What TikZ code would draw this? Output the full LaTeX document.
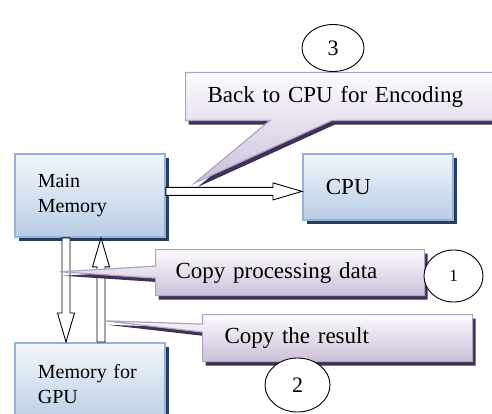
\documentclass[tikz,border=0pt]{standalone}
\usepackage{fontspec}
\setmainfont{Liberation Serif}
\usetikzlibrary{calc,shapes.geometric,shapes.callouts,shadows}
\definecolor{memblue}{HTML}{95B3D7}
\definecolor{memtop}{HTML}{F2F6FB}
\definecolor{membot}{HTML}{B9CDE5}
\definecolor{memshadow}{HTML}{243F60}
\definecolor{notelilac}{HTML}{B2A1C7}
\definecolor{notetop}{HTML}{FCFBFE}
\definecolor{notebot}{HTML}{CCC0DA}
\definecolor{noteshadow}{HTML}{3F3151}
\tikzset{
  unit/.style={draw=memblue, line width=1.8pt, top color=memtop, bottom color=membot,
    drop shadow={shadow xshift=4pt, shadow yshift=-4pt, fill=memshadow, opacity=1},
    anchor=north west, align=left, inner xsep=23pt, minimum width=150pt, text width=104pt,
    font=\fontsize{20}{25}\selectfont},
  note/.style={rectangle callout, draw=notelilac, line width=1.2pt, top color=notetop,
    bottom color=notebot,
    drop shadow={shadow xshift=3pt, shadow yshift=-4pt, fill=noteshadow, opacity=1},
    anchor=north west, align=left, font=\fontsize{23}{28}\selectfont},
  stepmark/.style={ellipse, draw, line width=0.9pt, fill=white, inner sep=0pt,
    font=\fontsize{22}{22}\selectfont},
  blockarrow/.style={draw=black, fill=white, line width=0.9pt, line join=miter}
}
% hollow block arrow from #1 to #2
\newcommand{\blockarrow}[2]{%
  \filldraw[blockarrow] let \p1=#1, \p2=#2,
    \n1={veclen(\x2-\x1,\y2-\y1)}, \n2={atan2(\y2-\y1,\x2-\x1)} in
    [shift={(\p1)}, rotate=\n2]
    (0pt,-4pt) -- ({\n1-29pt},-4pt) -- ({\n1-29pt},-8.5pt) -- ({\n1},0pt)
    -- ({\n1-29pt},8.5pt) -- ({\n1-29pt},4pt) -- (0pt,4pt) -- cycle;}

\begin{document}
\begin{tikzpicture}[x=1pt, y=-1pt]
  \useasboundingbox[fill=white] (0,0) rectangle (492,414);

  \node[unit, minimum height=83pt] (mm) at (14,153) {Main\\Memory};
  \node[unit, minimum height=66pt, font=\fontsize{23}{28}\selectfont] (cpu) at (302,153) {CPU};
  \node[unit, minimum height=83pt] (gpu) at (14,342) {Memory for\\GPU};

  \coordinate (mmout) at ($(mm.east)+(0,-4)$);
  \coordinate (dn) at ($(mm.south west)+(52,0)$);
  \coordinate (up) at ($(mm.south west)+(87,0)$);

  \blockarrow{(mmout)}{(mmout -| cpu.west)}
  \blockarrow{(dn)}{(dn |- gpu.north)}
  \blockarrow{(up |- gpu.north)}{(up)}

  \coordinate (p3) at ($(mmout)+(29,-8.5)$);
  \coordinate (p1) at ($(dn)+(-6,34)$);
  \coordinate (p2) at ($(up)+(3,83)$);

  \node[note, minimum width=312pt, minimum height=48pt, text width=268pt, inner xsep=22pt,
    callout absolute pointer={(p3)}, callout pointer width=62pt] (back) at (185,72)
    {Back to CPU for Encoding};
  \node[note, minimum width=269pt, minimum height=46pt, text width=229pt, inner xsep=20pt,
    callout absolute pointer={(p1)}, callout pointer width=12pt] (copyin) at (155,249)
    {Copy processing data};
  \node[note, minimum width=270pt, minimum height=47pt, text width=226pt, inner xsep=22pt,
    callout absolute pointer={(p2)}, callout pointer width=8pt] (copyout) at (202,314)
    {Copy the result};

  \node[stepmark, minimum width=62pt, minimum height=47pt] (s3) at (333,48) {3};
  \node[stepmark, minimum width=59pt, minimum height=52pt, font=\fontsize{17}{17}\selectfont]
    (s1) at (453.5,276) {1};
  \node[stepmark, minimum width=65pt, minimum height=54pt] (s2) at (297.5,385) {2};
\end{tikzpicture}
\end{document}
